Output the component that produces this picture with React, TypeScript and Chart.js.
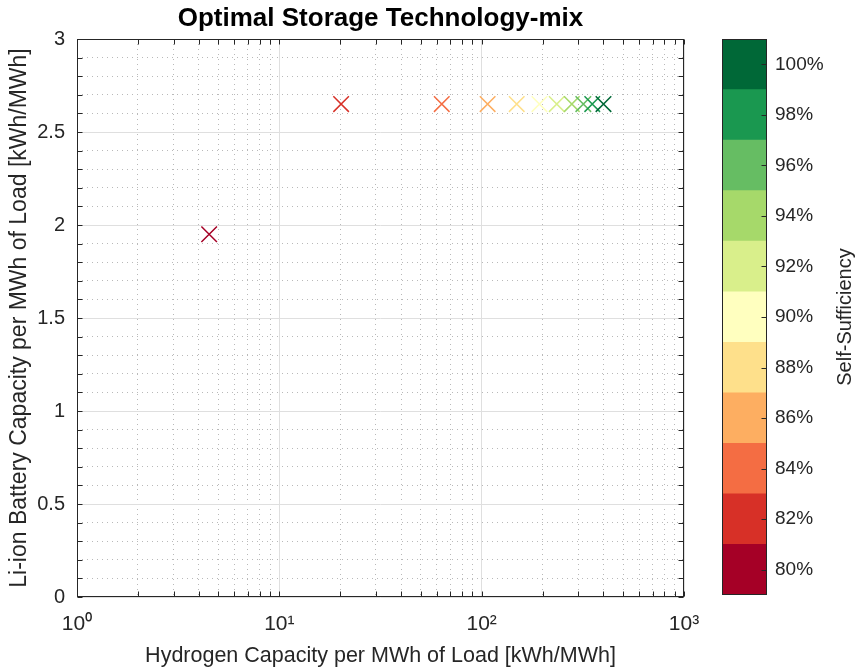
import { useEffect, useRef } from 'react';
import { Chart, registerables } from 'chart.js';

Chart.register(...registerables);

// Optimal storage sizing, one run per self-sufficiency target
const selfSufficiency = [80, 82, 84, 86, 88, 90, 92, 94, 96, 98, 100];
const hydrogenCapacity = [4.5, 20.2, 63.5, 107, 149, 193, 235, 279, 318, 352, 400];
const batteryCapacity = [1.95, 2.65, 2.65, 2.65, 2.65, 2.65, 2.65, 2.65, 2.65, 2.65, 2.65];

// Colour levels of the self-sufficiency colour bar (RdYlGn, 11 classes)
const levelColors = [
  '#a50026', '#d73027', '#f46d43', '#fdae61', '#fee08b', '#ffffbf',
  '#d9ef8b', '#a6d96a', '#66bd63', '#1a9850', '#006837',
];
const levelTicks = [80, 82, 84, 86, 88, 90, 92, 94, 96, 98, 100];

// Axis ticks
const xDecades = [1, 10, 100, 1000];
const xDecadeLabels = ['10⁰', '10¹', '10²', '10³'];
const yTickLabels = ['0', '0.5', '1', '1.5', '2', '2.5', '3'];

const FONT = "'Liberation Sans', Arial, Helvetica, sans-serif";
const AXIS = '#262626';
const MAJOR_GRID = '#dfdfdf';
const MINOR_GRID = '#b9b9b9';
const TICK_LEN = 5;

const levelIndex = (s: number) =>
  Math.max(0, Math.min(levelColors.length - 1, Math.floor((s - (levelTicks[0] - 1)) / 2)));

const isDecade = (v: number) => {
  const l = Math.log10(v);
  return Math.abs(l - Math.round(l)) < 1e-9;
};
const isHalfStep = (v: number) => Math.abs(v * 2 - Math.round(v * 2)) < 1e-9;

// 1..9 per decade for the log axis, 0.1 steps for the linear one
const xTickValues: number[] = [];
for (let d = 0; d < xDecades.length - 1; d++) {
  for (let m = 1; m <= 9; m++) xTickValues.push(m * xDecades[d]);
}
xTickValues.push(xDecades[xDecades.length - 1]);
const yTickValues: number[] = [];
for (let i = 0; i <= 30; i++) yTickValues.push(i / 10);

// Box around the axes with inward tick marks on all four sides
const axesBox = {
  id: 'axesBox',
  afterDraw(chart: any) {
    const { ctx, chartArea: a, scales } = chart;
    const l = Math.round(a.left) + 0.5;
    const r = Math.round(a.right) - 0.5;
    const t = Math.round(a.top) + 0.5;
    const b = Math.round(a.bottom) - 0.5;
    ctx.save();
    ctx.strokeStyle = AXIS;
    ctx.lineWidth = 1;
    ctx.beginPath();
    for (const tk of scales.x.ticks) {
      const px = Math.round(scales.x.getPixelForValue(tk.value)) + 0.5;
      ctx.moveTo(px, b);
      ctx.lineTo(px, b - TICK_LEN);
      ctx.moveTo(px, t);
      ctx.lineTo(px, t + TICK_LEN);
    }
    for (const tk of scales.y.ticks) {
      const py = Math.round(scales.y.getPixelForValue(tk.value)) + 0.5;
      ctx.moveTo(l, py);
      ctx.lineTo(l + TICK_LEN, py);
      ctx.moveTo(r, py);
      ctx.lineTo(r - TICK_LEN, py);
    }
    ctx.stroke();
    ctx.strokeRect(l, t, r - l, b - t);
    ctx.restore();
  },
};

// Frame, inward ticks and rotated label of the colour bar
const colorbarFrame = {
  id: 'colorbarFrame',
  afterDraw(chart: any) {
    const { ctx, chartArea: a, scales } = chart;
    const l = Math.round(a.left) + 0.5;
    const r = Math.round(a.right) - 0.5;
    const t = Math.round(a.top) + 0.5;
    const b = Math.round(a.bottom) - 0.5;
    ctx.save();
    ctx.strokeStyle = AXIS;
    ctx.lineWidth = 1;
    ctx.beginPath();
    for (const tk of scales.y.ticks) {
      const py = Math.round(scales.y.getPixelForValue(tk.value)) + 0.5;
      ctx.moveTo(r, py);
      ctx.lineTo(r - TICK_LEN, py);
    }
    ctx.stroke();
    ctx.strokeRect(l, t, r - l, b - t);
    ctx.translate(a.right + 78, (a.top + a.bottom) / 2);
    ctx.rotate(-Math.PI / 2);
    ctx.fillStyle = AXIS;
    ctx.font = `20px ${FONT}`;
    ctx.textAlign = 'center';
    ctx.textBaseline = 'middle';
    ctx.fillText('Self-Sufficiency', 0, 0);
    ctx.restore();
  },
};

export default function App() {
  const mainRef = useRef<HTMLCanvasElement>(null);
  const barRef = useRef<HTMLCanvasElement>(null);

  useEffect(() => {
    Chart.defaults.font.family = FONT;
    Chart.defaults.color = AXIS;

    const main = new Chart(mainRef.current!, {
      type: 'scatter',
      data: {
        datasets: [
          {
            data: hydrogenCapacity.map((h, i) => ({ x: h, y: batteryCapacity[i] })),
            pointStyle: 'crossRot',
            pointRadius: 11,
            pointHoverRadius: 11,
            pointBorderWidth: 1.5,
            pointBorderColor: selfSufficiency.map((s) => levelColors[levelIndex(s)]),
            pointBackgroundColor: 'transparent',
          },
        ],
      },
      options: {
        animation: false,
        responsive: false,
        events: [],
        layout: { padding: { left: 0, right: 36, top: 0, bottom: 0 } },
        plugins: {
          legend: { display: false },
          tooltip: { enabled: false },
          title: {
            display: true,
            text: 'Optimal Storage Technology-mix',
            fullSize: false,
            color: '#000',
            font: { size: 26, weight: 'bold', family: FONT },
            padding: { top: 3, bottom: 4.8 },
          },
        },
        scales: {
          x: {
            type: 'logarithmic',
            min: xDecades[0],
            max: xDecades[xDecades.length - 1],
            afterBuildTicks: (s: any) => {
              s.ticks = xTickValues.map((v) => ({ value: v, major: isDecade(v) }));
            },
            afterFit: (s: any) => {
              s.height = 73;
            },
            ticks: {
              autoSkip: false,
              maxRotation: 0,
              padding: 15,
              color: AXIS,
              font: { size: 21 },
              callback: (v: any) => {
                const i = xDecades.findIndex((d) => Math.abs(d - v) < 1e-9);
                return i >= 0 ? xDecadeLabels[i] : '';
              },
            },
            grid: {
              drawTicks: false,
              color: (c: any) => (c.tick && isDecade(c.tick.value) ? MAJOR_GRID : MINOR_GRID),
              lineWidth: 1,
            },
            border: {
              display: false,
              dash: (c: any) => (c.tick && isDecade(c.tick.value) ? [] : [1, 4]),
            },
            title: {
              display: true,
              text: 'Hydrogen Capacity per MWh of Load [kWh/MWh]',
              color: AXIS,
              font: { size: 21.5 },
              padding: { top: 0, bottom: 1 },
            },
          },
          y: {
            type: 'linear',
            min: 0,
            max: 3,
            afterBuildTicks: (s: any) => {
              s.ticks = yTickValues.map((v) => ({ value: v }));
            },
            afterFit: (s: any) => {
              s.width = 77;
            },
            ticks: {
              autoSkip: false,
              padding: 12,
              color: AXIS,
              font: { size: 20 },
              callback: (v: any) => (isHalfStep(v) ? yTickLabels[Math.round(v * 2)] : ''),
            },
            grid: {
              drawTicks: false,
              color: (c: any) => (c.tick && isHalfStep(c.tick.value) ? MAJOR_GRID : MINOR_GRID),
              lineWidth: 1,
            },
            border: {
              display: false,
              dash: (c: any) => (c.tick && isHalfStep(c.tick.value) ? [] : [1, 4]),
            },
            title: {
              display: true,
              text: 'Li-ion Battery Capacity per MWh of Load [kWh/MWh]',
              color: AXIS,
              font: { size: 23 },
              padding: { top: 6, bottom: 0 },
            },
          },
        },
      },
      plugins: [axesBox],
    } as any);

    const bar = new Chart(barRef.current!, {
      type: 'bar',
      data: {
        labels: [''],
        datasets: levelColors.map((c, i) => ({
          data: [[levelTicks[i] - 1, levelTicks[i] + 1]],
          backgroundColor: c,
          borderWidth: 0,
          grouped: false,
          barPercentage: 1,
          categoryPercentage: 1,
        })),
      },
      options: {
        animation: false,
        responsive: false,
        events: [],
        layout: { padding: { left: 22, right: 0, top: 39, bottom: 75 } },
        plugins: { legend: { display: false }, tooltip: { enabled: false } },
        scales: {
          x: { type: 'category', display: false },
          y: {
            position: 'right',
            min: levelTicks[0] - 1,
            max: levelTicks[levelTicks.length - 1] + 1,
            afterBuildTicks: (s: any) => {
              s.ticks = levelTicks.map((v) => ({ value: v }));
            },
            afterFit: (s: any) => {
              s.width = 91;
            },
            ticks: {
              padding: 8,
              color: AXIS,
              font: { size: 19 },
              callback: (v: any) => `${v}%`,
            },
            grid: { display: false, drawTicks: false },
            border: { display: false },
          },
        },
      },
      plugins: [colorbarFrame],
    } as any);

    return () => {
      main.destroy();
      bar.destroy();
    };
  }, []);

  return (
    <div style={{ position: 'absolute', left: 0, top: 0, width: 858, height: 670, background: '#fff', overflow: 'hidden' }}>
      <canvas ref={mainRef} width={720} height={670} style={{ position: 'absolute', left: 0, top: 0 }} />
      <canvas ref={barRef} width={158} height={670} style={{ position: 'absolute', left: 700, top: 0 }} />
    </div>
  );
}
